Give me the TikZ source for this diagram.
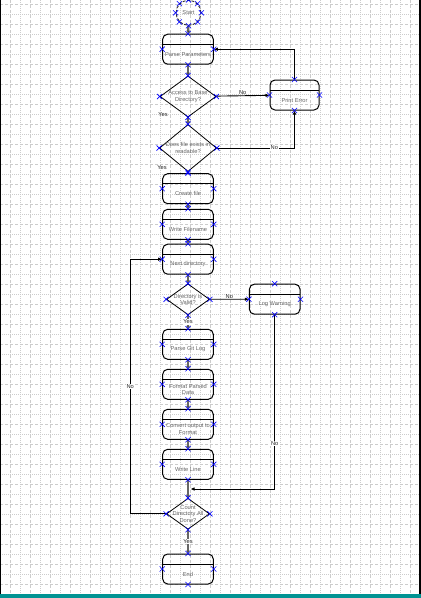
\documentclass[tikz,border=0pt]{standalone}
\usepackage{fontspec}
\setmainfont{Liberation Sans}
\usetikzlibrary{shapes.geometric,shapes.misc,arrows.meta}

\newcommand{\tinyfont}{\fontsize{5.7}{6.6}\selectfont}

\tikzset{
  boxtext/.style={font=\tinyfont, text=black!60, align=center, inner sep=0pt},
  lbl/.style={font=\tinyfont, text=black!85, inner sep=0.8pt},
  procbox/.style={draw, line width=1pt, rounded corners=5pt,
    minimum width=50.6pt, minimum height=30pt, inner sep=0pt,
    path picture={\draw[line width=1pt]
      ([yshift=-10pt]path picture bounding box.north west) --
      ([yshift=-10pt]path picture bounding box.north east);},
    label={[boxtext,yshift=-5pt]center:#1}},
  decision/.style={draw, line width=0.8pt, diamond, inner sep=0pt},
  startcirc/.style={shape=circle, draw=black!80, line width=0.9pt,
    dash pattern=on 3pt off 1.5pt, minimum size=25pt,
    inner sep=0pt, font=\tinyfont, text=black!60},
  flow/.style={draw=black!60, line width=2.2pt,
    -{Latex[length=3pt,width=4pt,fill=black]}},
  link/.style={draw, line width=0.9pt, -{Latex[length=4pt,width=3.5pt]}},
  xmk/.style={cross out, draw=blue, line width=0.6pt, minimum size=4.5pt,
    inner sep=0pt},
  gridA/.style={gray!40, line width=0.5pt, dash pattern=on 3pt off 2pt},
  gridB/.style={gray!40, line width=0.5pt, dash pattern=on 1pt off 1pt}
}

\begin{document}
\begin{tikzpicture}[x=1pt,y=-1pt]
\useasboundingbox (0,0) rectangle (421,598);
\fill[white] (0,0) rectangle (421,598);

% grid of the editor
\foreach \gx in {10,30,...,410} \draw[gridA] (\gx,0) -- (\gx,594);
\foreach \gx in {20,40,...,400} \draw[gridB] (\gx,0) -- (\gx,594);
\foreach \gy in {4.3,24.3,...,594} \draw[gridA] (0,\gy) -- (419,\gy);
\foreach \gy in {14.3,34.3,...,594} \draw[gridB] (0,\gy) -- (419,\gy);

% frame
\fill[black] (0,0) rectangle (1.3,594);
\fill[black] (419,0) rectangle (421,594);
\fill[teal!85!cyan] (0,594) rectangle (421,598);

% shapes
\node[startcirc] (start) at (188.5,12.8) {Start};
\node[procbox=Parse Parameters] (parse) at (188,49.2) {};
\node[decision, minimum width=56pt, minimum height=41pt,
  label={[boxtext]center:Access to Base\\Directory?}] (access) at (188,96.5) {};
\node[procbox=Print Error, minimum width=49pt] (perr) at (294.5,95) {};
\node[decision, minimum width=57pt, minimum height=47pt,
  label={[boxtext]center:Does file exists in\\readable?}] (exist) at (188,148) {};
\node[procbox=Create file] (create) at (188,188.7) {};
\node[procbox=Write Filename] (wfile) at (188,224.3) {};
\node[procbox=Next directory] (nextdir) at (188,259.2) {};
\node[decision, minimum width=43pt, minimum height=31pt,
  label={[boxtext]center:Directory is\\Valid?}] (valid) at (188,299.3) {};
\node[procbox=Log Warning] (logw) at (274.7,299.2) {};
\node[procbox=Parse Git Log] (gitlog) at (188,344.3) {};
\node[procbox={Format Parsed\\Data}] (fmt) at (188,384.3) {};
\node[procbox={Convert output to\\Format}] (conv) at (188,424.3) {};
\node[procbox=Write Line] (wline) at (188,464.3) {};
\node[decision, minimum width=43pt, minimum height=31pt,
  label={[boxtext]center:Count\\Directory All\\Done?}] (alldone) at (188,513.8) {};
\node[procbox=End] (finish) at (188,569) {};
\coordinate (merge) at (190.5,489);

% main flow
\draw[flow] (start) -- (parse);
\draw[flow] (parse) -- (access);
\draw[flow] (access) -- (exist);
\draw[flow] (exist) -- (create);
\draw[flow] (create) -- (wfile);
\draw[flow] (wfile) -- (nextdir);
\draw[flow] (nextdir) -- (valid);
\draw[flow] (valid) -- node[lbl, fill=white] {Yes} (gitlog);
\draw[flow] (gitlog) -- (fmt);
\draw[flow] (fmt) -- (conv);
\draw[flow] (conv) -- (wline);
\draw[flow] (wline) -- (alldone);
\draw[flow] (alldone) -- node[lbl, fill=white] {Yes} (finish);
\node[lbl] at (163,115) {Yes};
\node[lbl] at (162,168) {Yes};

% side branches
\draw[link] (access) -- node[lbl, above, inner sep=0.3pt] {No} (perr);
\draw[link] (perr.north) |- (parse.east);
\draw[link] (exist.east) -| node[lbl, fill=white, pos=0.37] {No} (perr.south);
\draw[link] (valid) -- node[lbl, above, inner sep=0.3pt] {No} (logw);
\draw[link] (logw.south) |- node[lbl, fill=white, pos=0.37] {No} (merge);
\draw[link] (alldone.west) -| node[lbl, fill=white, pos=0.75] {No}
  ([xshift=-32pt]nextdir.west) -- (nextdir.west);

% connection marks
\foreach \n in {parse,perr,access,exist,create,wfile,nextdir,valid,logw,
  gitlog,fmt,conv,wline,alldone,finish}
  \foreach \a in {north,south,east,west}
    \node[xmk] at (\n.\a) {};
\foreach \a in {0,45,...,315} \node[xmk] at (start.\a) {};
\end{tikzpicture}
\end{document}
